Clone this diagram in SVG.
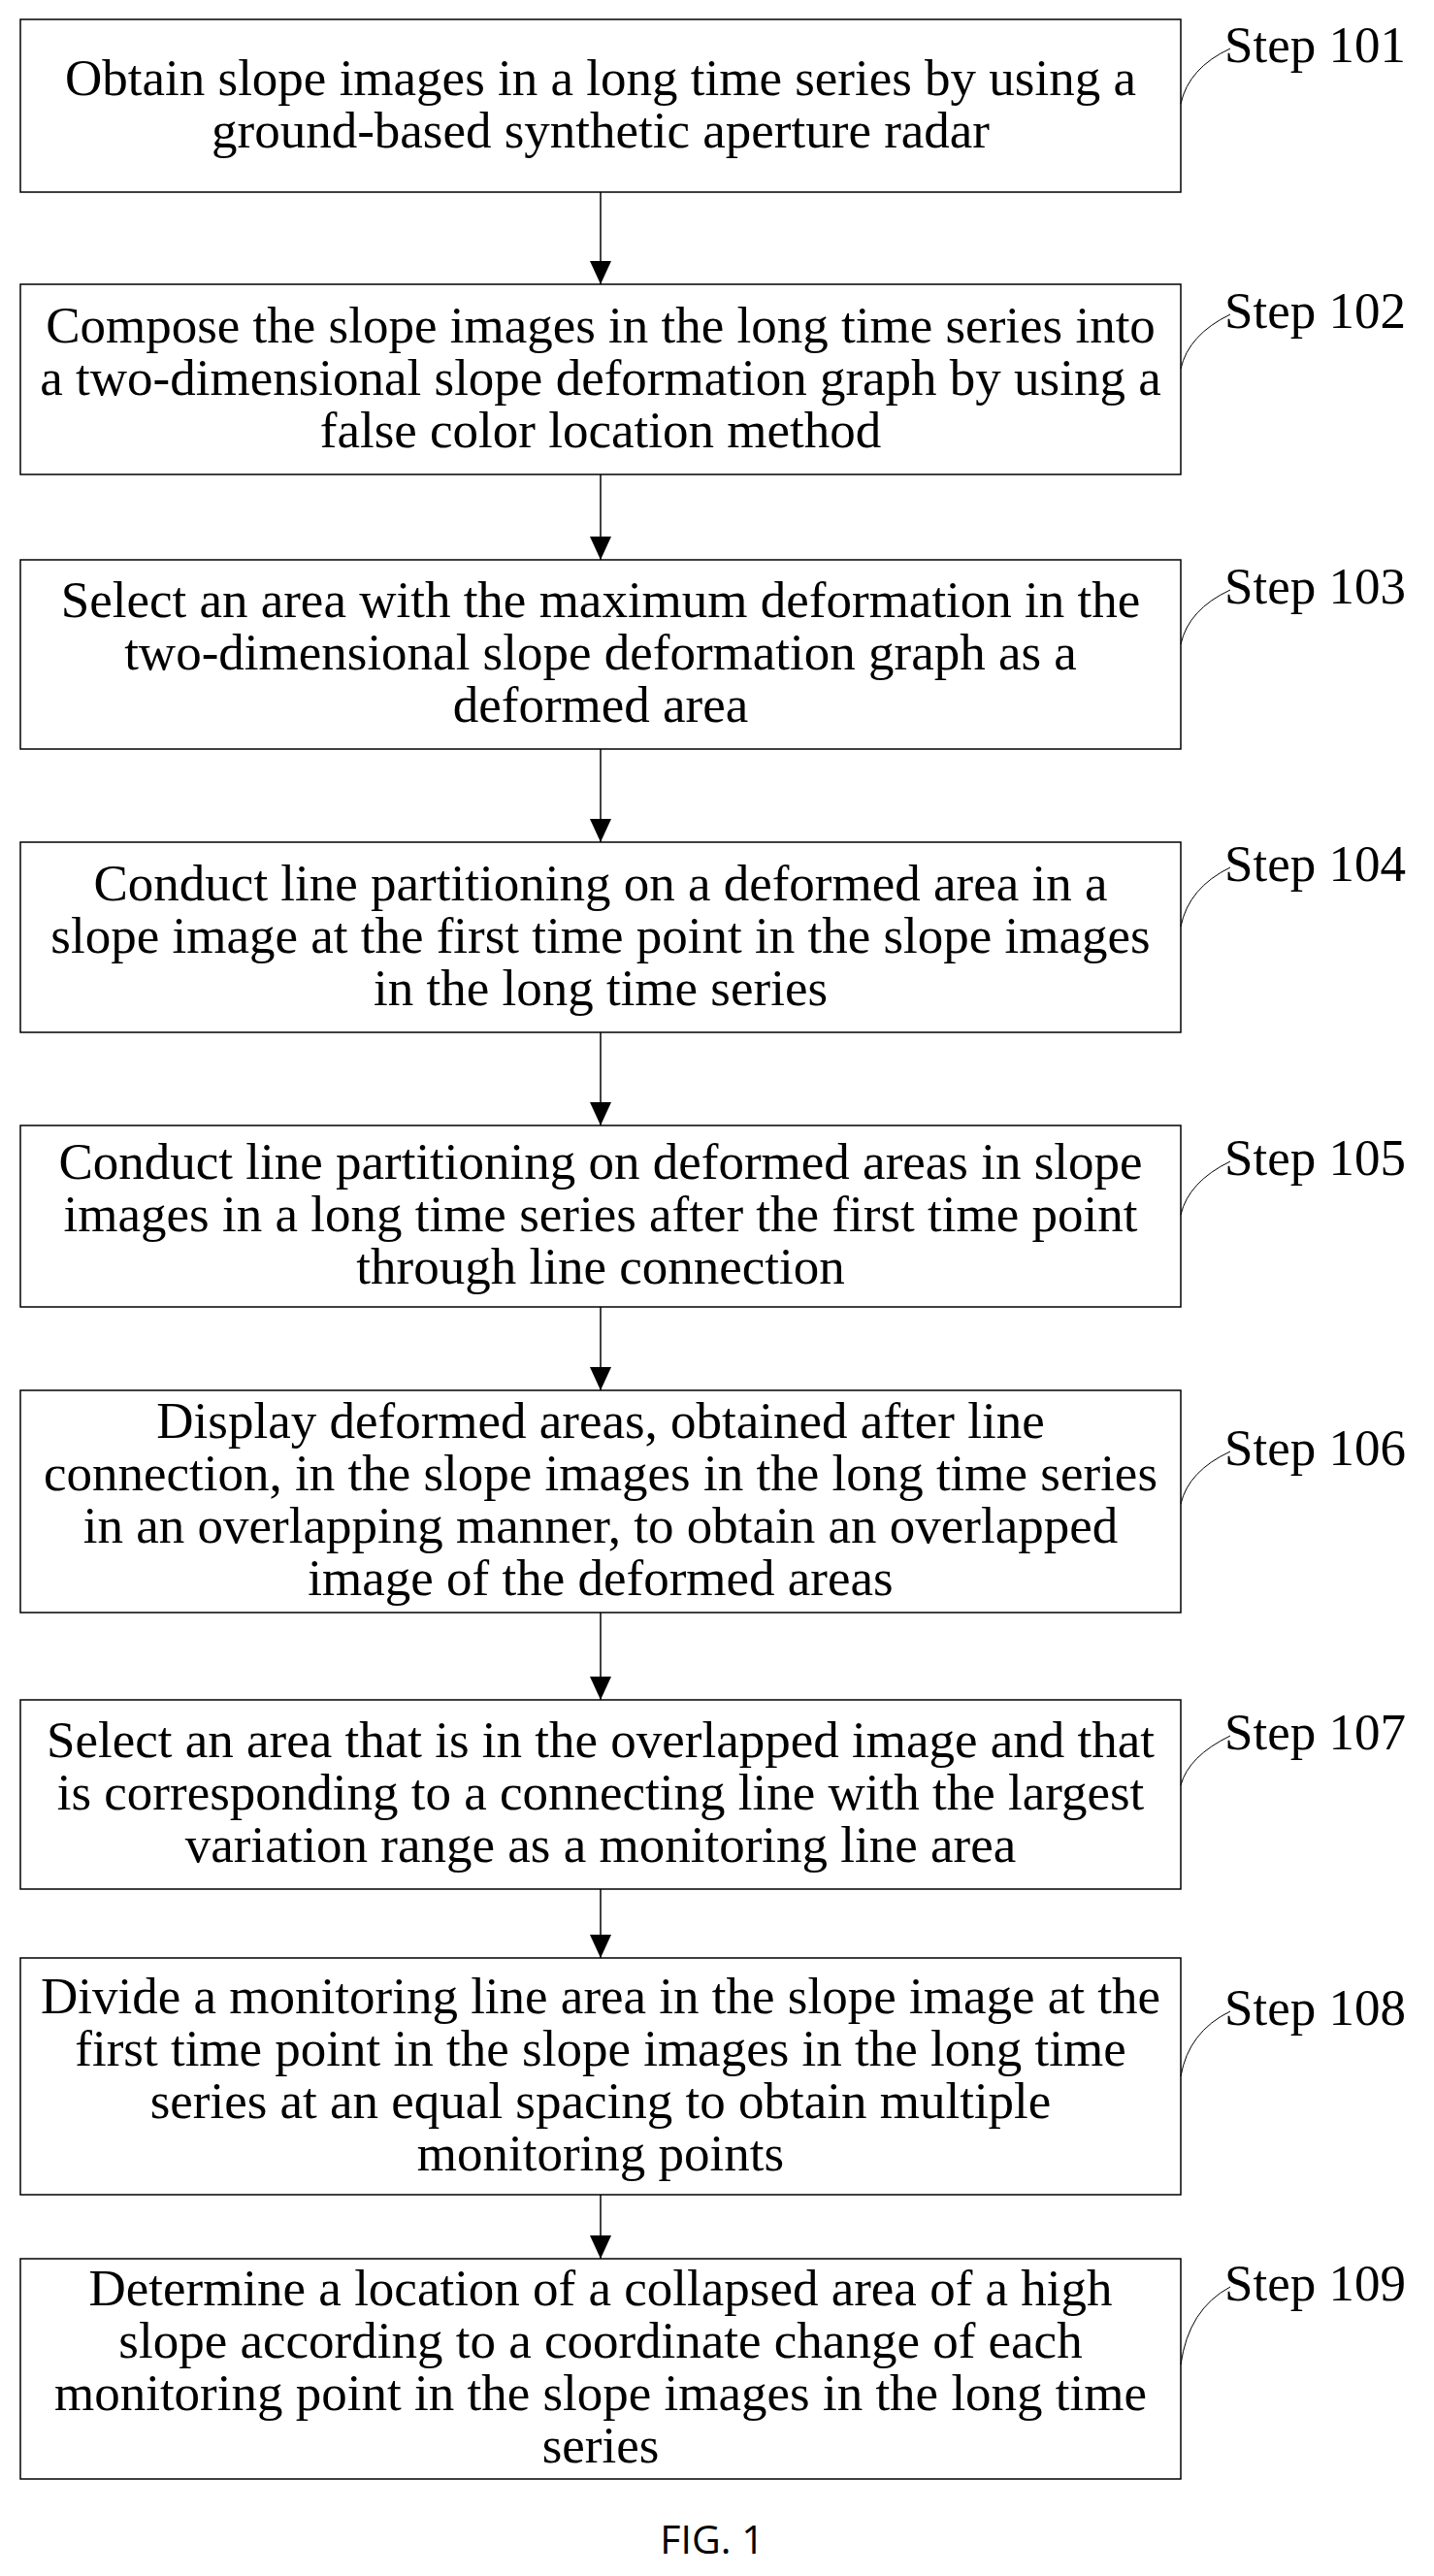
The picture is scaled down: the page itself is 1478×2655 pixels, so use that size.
<svg xmlns="http://www.w3.org/2000/svg" width="1478" height="2655" viewBox="0 0 1478 2655">
<style>
.b{fill:#fff;stroke:#000;stroke-width:1.5}
.t{font-family:"Liberation Serif","Times New Roman",serif;font-size:53px;text-anchor:middle;fill:#000}
.s{font-family:"Liberation Serif","Times New Roman",serif;font-size:53px;fill:#000}
.c{stroke:#000;stroke-width:1.5;fill:none}
.l{stroke:#000;stroke-width:1;fill:none}
</style>
<defs>
<marker id="ah" markerWidth="24" markerHeight="22" refX="24" refY="11" orient="auto" markerUnits="userSpaceOnUse"><path d="M0,0 L24,11 L0,22 Z" fill="#000"/></marker></defs>
<g id="connectors">
<line class="c" x1="619" y1="198" x2="619" y2="293" marker-end="url(#ah)"/>
<line class="c" x1="619" y1="489" x2="619" y2="577" marker-end="url(#ah)"/>
<line class="c" x1="619" y1="772" x2="619" y2="868" marker-end="url(#ah)"/>
<line class="c" x1="619" y1="1064" x2="619" y2="1160" marker-end="url(#ah)"/>
<line class="c" x1="619" y1="1347" x2="619" y2="1433" marker-end="url(#ah)"/>
<line class="c" x1="619" y1="1662" x2="619" y2="1752" marker-end="url(#ah)"/>
<line class="c" x1="619" y1="1947" x2="619" y2="2018" marker-end="url(#ah)"/>
<line class="c" x1="619" y1="2262" x2="619" y2="2328" marker-end="url(#ah)"/>
</g>
<g id="n101"><rect class="b" x="21" y="20" width="1196" height="178"/>
<text class="t" x="619" y="98">Obtain slope images in a long time series by using a</text>
<text class="t" x="619" y="152">ground-based synthetic aperture radar</text>
<path class="l" d="M1217,107 Q1225,70 1268,50"/><text class="s" x="1262" y="64">Step 101</text></g>
<g id="n102"><rect class="b" x="21" y="293" width="1196" height="196"/>
<text class="t" x="619" y="353">Compose the slope images in the long time series into</text>
<text class="t" x="619" y="407">a two-dimensional slope deformation graph by using a</text>
<text class="t" x="619" y="461">false color location method</text>
<path class="l" d="M1217,380 Q1225,345 1268,324"/><text class="s" x="1262" y="338">Step 102</text></g>
<g id="n103"><rect class="b" x="21" y="577" width="1196" height="195"/>
<text class="t" x="619" y="636">Select an area with the maximum deformation in the</text>
<text class="t" x="619" y="690">two-dimensional slope deformation graph as a</text>
<text class="t" x="619" y="744">deformed area</text>
<path class="l" d="M1217,664 Q1225,628 1268,608"/><text class="s" x="1262" y="622">Step 103</text></g>
<g id="n104"><rect class="b" x="21" y="868" width="1196" height="196"/>
<text class="t" x="619" y="928">Conduct line partitioning on a deformed area in a</text>
<text class="t" x="619" y="982">slope image at the first time point in the slope images</text>
<text class="t" x="619" y="1036">in the long time series</text>
<path class="l" d="M1217,955 Q1225,915 1268,894"/><text class="s" x="1262" y="908">Step 104</text></g>
<g id="n105"><rect class="b" x="21" y="1160" width="1196" height="187"/>
<text class="t" x="619" y="1215">Conduct line partitioning on deformed areas in slope</text>
<text class="t" x="619" y="1269">images in a long time series after the first time point</text>
<text class="t" x="619" y="1323">through line connection</text>
<path class="l" d="M1217,1252 Q1225,1218 1268,1197"/><text class="s" x="1262" y="1211">Step 105</text></g>
<g id="n106"><rect class="b" x="21" y="1433" width="1196" height="229"/>
<text class="t" x="619" y="1482">Display deformed areas, obtained after line</text>
<text class="t" x="619" y="1536">connection, in the slope images in the long time series</text>
<text class="t" x="619" y="1590">in an overlapping manner, to obtain an overlapped</text>
<text class="t" x="619" y="1644">image of the deformed areas</text>
<path class="l" d="M1217,1550 Q1225,1516 1268,1496"/><text class="s" x="1262" y="1510">Step 106</text></g>
<g id="n107"><rect class="b" x="21" y="1752" width="1196" height="195"/>
<text class="t" x="619" y="1811">Select an area that is in the overlapped image and that</text>
<text class="t" x="619" y="1865">is corresponding to a connecting line with the largest</text>
<text class="t" x="619" y="1919">variation range as a monitoring line area</text>
<path class="l" d="M1217,1840 Q1225,1810 1268,1789"/><text class="s" x="1262" y="1803">Step 107</text></g>
<g id="n108"><rect class="b" x="21" y="2018" width="1196" height="244"/>
<text class="t" x="619" y="2075">Divide a monitoring line area in the slope image at the</text>
<text class="t" x="619" y="2129">first time point in the slope images in the long time</text>
<text class="t" x="619" y="2183">series at an equal spacing to obtain multiple</text>
<text class="t" x="619" y="2237">monitoring points</text>
<path class="l" d="M1217,2140 Q1225,2094 1268,2073"/><text class="s" x="1262" y="2087">Step 108</text></g>
<g id="n109"><rect class="b" x="21" y="2328" width="1196" height="227"/>
<text class="t" x="619" y="2376">Determine a location of a collapsed area of a high</text>
<text class="t" x="619" y="2430">slope according to a coordinate change of each</text>
<text class="t" x="619" y="2484">monitoring point in the slope images in the long time</text>
<text class="t" x="619" y="2538">series</text>
<path class="l" d="M1217,2437 Q1225,2380 1268,2357"/><text class="s" x="1262" y="2371">Step 109</text></g>
<text x="734" y="2632" font-family="'Open Sans','Liberation Sans',sans-serif" font-size="41" text-anchor="middle">FIG. 1</text>
</svg>
